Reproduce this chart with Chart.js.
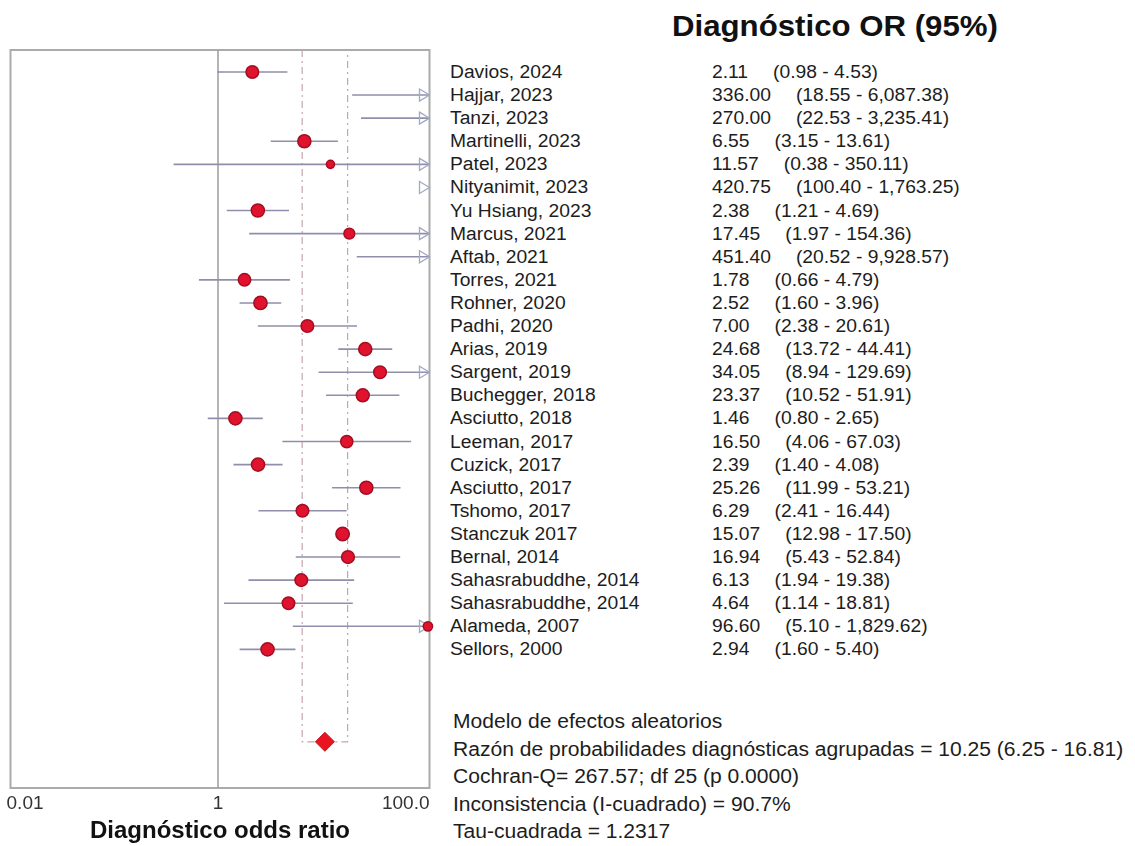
<!DOCTYPE html>
<html>
<head>
<meta charset="utf-8">
<title>Diagnóstico OR (95%)</title>
<script src="https://cdn.jsdelivr.net/npm/chart.js@4.4.1/dist/chart.umd.min.js"></script>
<style>
  html, body { margin: 0; padding: 0; background: #fff; }
  #wrap { position: relative; width: 1135px; height: 846px; overflow: hidden;
          font-family: "Liberation Sans", Arial, sans-serif; color: #1d1d1d; }
  #plot { position: absolute; left: 0; top: 0; }
  .txt { position: absolute; white-space: nowrap; transform-origin: 0 50%; }
  .row { font-size: 18px; height: 24px; line-height: 24px; transform: scaleX(1.07); }
  .ci { margin-left: 23.4px; }
  #title { left: 672px; top: 8px; font-size: 30px; font-weight: bold; line-height: 36px;
           color: #111; transform: scaleX(1.04); }
  #stats { left: 452.5px; top: 708.3px; font-size: 19.5px; line-height: 27.4px;
           transform: scaleX(1.08); transform-origin: 0 0; }
</style>
</head>
<body>
<div id="wrap">
  <canvas id="plot" width="440" height="846"></canvas>
  <div id="title" class="txt">Diagnóstico OR (95%)</div>
  <div id="table"></div>
  <div id="stats" class="txt"></div>
</div>
<script>
// Individual studies (top to bottom)
const studyNames = [
  "Davios, 2024", "Hajjar, 2023", "Tanzi, 2023", "Martinelli, 2023", "Patel, 2023",
  "Nityanimit, 2023", "Yu Hsiang, 2023", "Marcus, 2021", "Aftab, 2021", "Torres, 2021",
  "Rohner, 2020", "Padhi, 2020", "Arias, 2019", "Sargent, 2019", "Buchegger, 2018",
  "Asciutto, 2018", "Leeman, 2017", "Cuzick, 2017", "Asciutto, 2017", "Tshomo, 2017",
  "Stanczuk 2017", "Bernal, 2014", "Sahasrabuddhe, 2014", "Sahasrabuddhe, 2014",
  "Alameda, 2007", "Sellors, 2000"
];
const oddsRatios = [
  2.11, 336.00, 270.00, 6.55, 11.57, 420.75, 2.38, 17.45, 451.40, 1.78,
  2.52, 7.00, 24.68, 34.05, 23.37, 1.46, 16.50, 2.39, 25.26, 6.29,
  15.07, 16.94, 6.13, 4.64, 96.60, 2.94
];
const lowerCI = [
  0.98, 18.55, 22.53, 3.15, 0.38, 100.40, 1.21, 1.97, 20.52, 0.66,
  1.60, 2.38, 13.72, 8.94, 10.52, 0.80, 4.06, 1.40, 11.99, 2.41,
  12.98, 5.43, 1.94, 1.14, 5.10, 1.60
];
const upperCI = [
  4.53, 6087.38, 3235.41, 13.61, 350.11, 1763.25, 4.69, 154.36, 9928.57, 4.79,
  3.96, 20.61, 44.41, 129.69, 51.91, 2.65, 67.03, 4.08, 53.21, 16.44,
  17.50, 52.84, 19.38, 18.81, 1829.62, 5.40
];
// Approximate random-effects weights (%), used for marker size
const studyWeights = [
  4.0, 2.2, 2.5, 4.3, 1.8, 3.8, 4.3, 3.0, 2.0, 3.9,
  4.4, 4.0, 4.3, 4.0, 4.2, 4.3, 3.8, 4.4, 4.3, 4.0,
  4.5, 4.1, 4.0, 3.9, 2.3, 4.3
];

// Pooled estimate
const pooledOR = 10.25;
const pooledLower = 6.25;
const pooledUpper = 16.81;
const cochranQ = 267.57;
const degreesFreedom = 25;
const pValueText = "0.0000";
const iSquared = 90.7;
const tauSquared = 1.2317;

// Axis
const tickValues = [0.01, 1, 100];
const tickLabels = ["0.01", "1", "100.0"];
const nullValue = 1;

const X_MIN = 0.0109, X_MAX = 100;
const pooledRow = studyNames.length + 3;

const fmt = v => v.toLocaleString("en-US", { minimumFractionDigits: 2, maximumFractionDigits: 2 });
const radiusFor = w => 3.4 * Math.sqrt(w) - 0.5;

// Study points inside the visible axis range
const visible = oddsRatios.map((v, i) => i).filter(i => oddsRatios[i] <= X_MAX);
const studyPoints = visible.map(i => ({ x: oddsRatios[i], y: i }));
const studyRadii = visible.map(i => radiusFor(studyWeights[i]));

const forestDecor = {
  id: "forestDecor",
  beforeDatasetsDraw(chart) {
    const { ctx, chartArea: a, scales: { x, y } } = chart;
    ctx.save();

    // frame
    ctx.strokeStyle = "#ababab";
    ctx.lineWidth = 2;
    ctx.strokeRect(a.left, a.top, a.right - a.left, a.bottom - a.top);

    // line of no effect
    const xn = x.getPixelForValue(nullValue);
    ctx.strokeStyle = "#9c9c9c";
    ctx.lineWidth = 1.5;
    ctx.beginPath();
    ctx.moveTo(xn, a.top);
    ctx.lineTo(xn, a.bottom);
    ctx.stroke();

    // pooled confidence band guides
    const py = y.getPixelForValue(pooledRow);
    const pl = x.getPixelForValue(pooledLower);
    const ph = x.getPixelForValue(pooledUpper);
    ctx.setLineDash([7, 4, 2, 4]);
    ctx.strokeStyle = "#c6a4ad";
    ctx.lineWidth = 1.2;
    ctx.beginPath();
    ctx.moveTo(pl, a.top);
    ctx.lineTo(pl, py);
    ctx.lineTo(ph, py);
    ctx.lineTo(ph, a.top);
    ctx.stroke();
    ctx.setLineDash([]);

    // confidence intervals and off-scale arrows
    studyNames.forEach((_, i) => {
      const yy = y.getPixelForValue(i);
      const lo = lowerCI[i], hi = upperCI[i];
      if (lo < X_MAX) {
        const x0 = x.getPixelForValue(Math.max(lo, X_MIN));
        const x1 = x.getPixelForValue(Math.min(hi, X_MAX));
        ctx.strokeStyle = "#8f8fab";
        ctx.lineWidth = 1.6;
        ctx.beginPath();
        ctx.moveTo(x0, yy);
        ctx.lineTo(x1, yy);
        ctx.stroke();
      }
      if (hi > X_MAX) {
        const tip = a.right;
        ctx.strokeStyle = "#a2a9c4";
        ctx.lineWidth = 1.3;
        ctx.beginPath();
        ctx.moveTo(tip - 10, yy - 6);
        ctx.lineTo(tip, yy);
        ctx.lineTo(tip - 10, yy + 6);
        ctx.closePath();
        ctx.stroke();
      }
    });
    ctx.restore();
  }
};

const chart = new Chart(document.getElementById("plot"), {
  type: "scatter",
  data: {
    datasets: [
      {
        data: studyPoints,
        pointRadius: studyRadii,
        pointStyle: "circle",
        backgroundColor: "#e0132e",
        borderColor: "#a30d22",
        borderWidth: 1.5,
        clip: false
      },
      {
        data: [{ x: pooledOR, y: pooledRow }],
        pointRadius: 9.5,
        pointStyle: "rectRot",
        backgroundColor: "#e8141f",
        borderColor: "#c01020",
        borderWidth: 1,
        clip: false
      }
    ]
  },
  options: {
    responsive: false,
    animation: false,
    devicePixelRatio: 1,
    layout: { padding: { left: 9, right: 9, top: 50, bottom: 0 } },
    plugins: { legend: { display: false }, tooltip: { enabled: false } },
    scales: {
      x: {
        type: "logarithmic",
        min: X_MIN,
        max: X_MAX,
        grid: { display: false, drawTicks: false },
        border: { display: false },
        afterBuildTicks: s => { s.ticks = tickValues.map(v => ({ value: v })); },
        afterFit: s => { s.height = 58; },
        ticks: {
          autoSkip: false,
          maxRotation: 0,
          align: "inner",
          padding: 4,
          color: "#333",
          font: { family: "'Liberation Sans', Arial, sans-serif", size: 19 },
          callback: (v, i) => tickLabels[i]
        },
        title: {
          display: true,
          text: "Diagnóstico odds ratio",
          color: "#111",
          padding: { top: 0, bottom: 0 },
          font: { family: "'Liberation Sans', Arial, sans-serif", size: 24, weight: "bold" }
        }
      },
      y: {
        type: "linear",
        reverse: true,
        min: -0.95,
        max: 31,
        display: false
      }
    }
  },
  plugins: [forestDecor]
});

// Study table, aligned to the plot rows
const table = document.getElementById("table");
const yScale = chart.scales.y;
studyNames.forEach((name, i) => {
  const cy = yScale.getPixelForValue(i);
  const nameDiv = document.createElement("div");
  nameDiv.className = "txt row";
  nameDiv.style.left = "450px";
  nameDiv.style.top = (cy - 12) + "px";
  nameDiv.textContent = name;
  table.appendChild(nameDiv);

  const valDiv = document.createElement("div");
  valDiv.className = "txt row";
  valDiv.style.left = "712px";
  valDiv.style.top = (cy - 12) + "px";
  const orSpan = document.createElement("span");
  orSpan.textContent = fmt(oddsRatios[i]);
  const ciSpan = document.createElement("span");
  ciSpan.className = "ci";
  ciSpan.textContent = "(" + fmt(lowerCI[i]) + " - " + fmt(upperCI[i]) + ")";
  valDiv.appendChild(orSpan);
  valDiv.appendChild(ciSpan);
  table.appendChild(valDiv);
});

// Summary statistics
const statsLines = [
  "Modelo de efectos aleatorios",
  "Razón de probabilidades diagnósticas agrupadas = " + fmt(pooledOR) + " (" + fmt(pooledLower) + " - " + fmt(pooledUpper) + ")",
  "Cochran-Q= " + fmt(cochranQ) + "; df " + degreesFreedom + " (p " + pValueText + ")",
  "Inconsistencia (I-cuadrado) = " + iSquared.toFixed(1) + "%",
  "Tau-cuadrada = " + tauSquared.toFixed(4)
];
const stats = document.getElementById("stats");
statsLines.forEach(t => {
  const d = document.createElement("div");
  d.textContent = t;
  stats.appendChild(d);
});
</script>
</body>
</html>
